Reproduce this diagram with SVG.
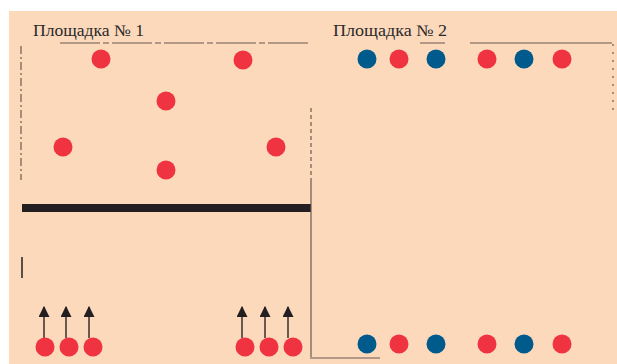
<svg xmlns="http://www.w3.org/2000/svg" width="617" height="364" viewBox="0 0 617 364">
<style>
.red{fill:#EF3340}
.blue{fill:#005A8C}
.ttl{font-family:"Liberation Serif",serif;font-size:16px;fill:#2a2a2a}
.bd{stroke:#6b5a4e;stroke-width:1.2;fill:none}
.ar{stroke:#3a2e28;stroke-width:1.5;fill:none}
</style>
<defs>
<marker id="ah" markerWidth="11" markerHeight="11" refX="9" refY="5" orient="auto" markerUnits="userSpaceOnUse" viewBox="0 0 10 10">
<path d="M0,0 L10,5 L0,10 Z" fill="#231f20"/>
</marker>
</defs>
<rect x="0" y="0" width="617" height="364" fill="#ffffff"/>
<rect x="9" y="11" width="608" height="353" fill="#FDD9BC"/>
<g id="borders">
<path class="bd" d="M60,43 H310" stroke-dasharray="40,3,6,3"/>
<path class="bd" d="M420,43 H445 M470,43 H612"/>
<path class="bd" d="M613,44 V112" stroke-dasharray="2,6"/>
<path class="bd" d="M21,46 V180" stroke-dasharray="8,3,2,3"/>
<path d="M22,257 V278" stroke="#231f20" stroke-width="1.5"/>
<rect x="22" y="204" width="289" height="8" fill="#231f20"/>
<path class="bd" d="M311,108 V180" stroke-dasharray="4,3"/>
<path class="bd" d="M311,180 V357"/>
<path class="bd" d="M310,358 H380"/>
</g>
<g id="title1"><text class="ttl" x="33" y="36" textLength="111" lengthAdjust="spacingAndGlyphs">Площадка № 1</text></g>
<g id="title2"><text class="ttl" x="333" y="36" textLength="114" lengthAdjust="spacingAndGlyphs">Площадка № 2</text></g>
<g id="connectors">
<path class="ar" d="M44,338 V307" marker-end="url(#ah)"/>
<path class="ar" d="M66,338 V307" marker-end="url(#ah)"/>
<path class="ar" d="M89,338 V307" marker-end="url(#ah)"/>
<path class="ar" d="M242,338 V307" marker-end="url(#ah)"/>
<path class="ar" d="M265,338 V307" marker-end="url(#ah)"/>
<path class="ar" d="M288,338 V307" marker-end="url(#ah)"/>
</g>
<g id="p1-top">
<circle id="n1" class="red" cx="101" cy="59" r="9.5"/>
<circle id="n2" class="red" cx="243" cy="60" r="9.5"/>
<circle id="n3" class="red" cx="166" cy="101" r="9.5"/>
<circle id="n4" class="red" cx="63" cy="147" r="9.5"/>
<circle id="n5" class="red" cx="276" cy="147" r="9.5"/>
<circle id="n6" class="red" cx="166" cy="170" r="9.5"/>
</g>
<g id="p1-bottom">
<circle id="b1" class="red" cx="45" cy="347" r="9.5"/>
<circle id="b2" class="red" cx="69" cy="347" r="9.5"/>
<circle id="b3" class="red" cx="93" cy="347" r="9.5"/>
<circle id="b4" class="red" cx="245" cy="347" r="9.5"/>
<circle id="b5" class="red" cx="269" cy="347" r="9.5"/>
<circle id="b6" class="red" cx="293" cy="347" r="9.5"/>
</g>
<g id="p2-top">
<circle id="t1" class="blue" cx="367" cy="59" r="9.5"/>
<circle id="t2" class="red" cx="399" cy="59" r="9.5"/>
<circle id="t3" class="blue" cx="436" cy="59" r="9.5"/>
<circle id="t4" class="red" cx="487" cy="59" r="9.5"/>
<circle id="t5" class="blue" cx="524" cy="59" r="9.5"/>
<circle id="t6" class="red" cx="562" cy="59" r="9.5"/>
</g>
<g id="p2-bottom">
<circle id="u1" class="blue" cx="367" cy="344" r="9.5"/>
<circle id="u2" class="red" cx="399" cy="344" r="9.5"/>
<circle id="u3" class="blue" cx="436" cy="344" r="9.5"/>
<circle id="u4" class="red" cx="487" cy="344" r="9.5"/>
<circle id="u5" class="blue" cx="524" cy="344" r="9.5"/>
<circle id="u6" class="red" cx="562" cy="344" r="9.5"/>
</g>
</svg>
